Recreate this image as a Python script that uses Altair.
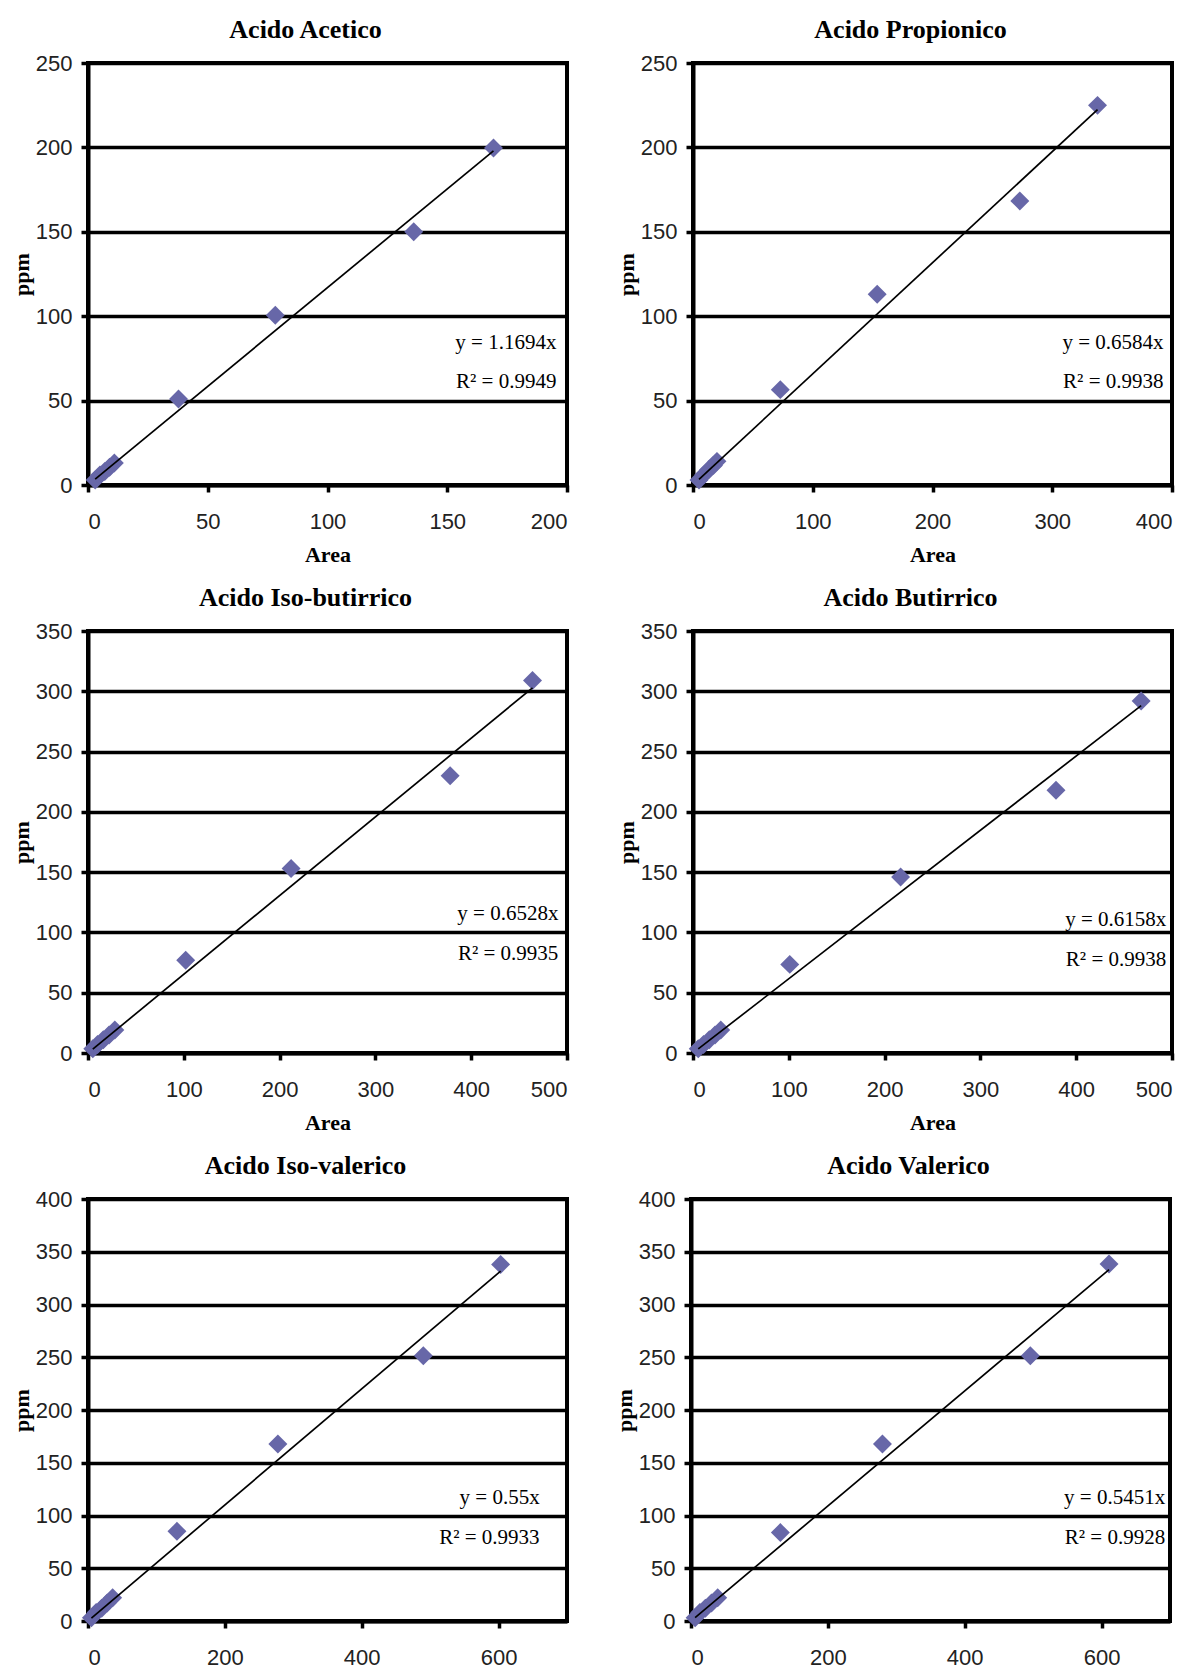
import altair as alt
import pandas as pd

titles = ["Acido Acetico", "Acido Propionico", "Acido Iso-butirrico",
          "Acido Butirrico", "Acido Iso-valerico", "Acido Valerico"]

acetico_area = [3, 5, 7, 9, 11, 37.8, 78.2, 136, 169.3]
acetico_ppm = [3, 6, 8, 10.5, 13, 51, 100.5, 150, 199.7]
propionico_area = [5, 9, 13, 17, 20, 72.9, 153.8, 272.9, 337.8]
propionico_ppm = [3, 6, 9, 11.5, 14, 56.5, 113, 168.3, 224.9]
isobutirrico_area = [5, 10, 16, 22, 28, 102, 212, 378, 464]
isobutirrico_ppm = [3.5, 7, 11, 15, 19, 77, 153, 230, 309]
butirrico_area = [5.5, 11, 17, 23, 29, 101, 216.7, 378.9, 467.8]
butirrico_ppm = [3.5, 7, 11, 15, 19, 73.5, 146, 218, 292]
isovalerico_area = [5, 12, 20, 28, 36, 130, 277.5, 490, 603]
isovalerico_ppm = [3, 8, 12, 17, 22, 85, 167.7, 251.5, 338]
valerico_area = [6, 13, 21, 30, 39, 130.6, 279.8, 495.9, 610.9]
valerico_ppm = [3, 8, 12, 17, 22, 83.8, 167.7, 251.5, 338.4]

areas = [acetico_area, propionico_area, isobutirrico_area,
         butirrico_area, isovalerico_area, valerico_area]
ppms = [acetico_ppm, propionico_ppm, isobutirrico_ppm,
        butirrico_ppm, isovalerico_ppm, valerico_ppm]

slopes = [1.1694, 0.6584, 0.6528, 0.6158, 0.55, 0.5451]
eq_labels = ["y = 1.1694x", "y = 0.6584x", "y = 0.6528x",
             "y = 0.6158x", "y = 0.55x", "y = 0.5451x"]
r2_labels = ["R² = 0.9949", "R² = 0.9938", "R² = 0.9935",
             "R² = 0.9938", "R² = 0.9933", "R² = 0.9928"]

x_max = [200, 400, 500, 500, 700, 700]
y_max = [250, 250, 350, 350, 400, 400]
x_ticks = [[0, 50, 100, 150, 200], [0, 100, 200, 300, 400],
           [0, 100, 200, 300, 400, 500], [0, 100, 200, 300, 400, 500],
           [0, 200, 400, 600], [0, 200, 400, 600]]
y_ticks = [[0, 50, 100, 150, 200, 250], [0, 50, 100, 150, 200, 250],
           [0, 50, 100, 150, 200, 250, 300, 350], [0, 50, 100, 150, 200, 250, 300, 350],
           [0, 50, 100, 150, 200, 250, 300, 350, 400], [0, 50, 100, 150, 200, 250, 300, 350, 400]]

# annotation anchor positions (data units)
eq_x = [195.6, 392.9, 491, 494, 660, 693]
eq_y = [84, 84, 115, 110, 117, 117]
r2_y = [61, 61, 82, 77, 79, 79]

POINT_COLOR = "#6767a8"
SERIF = "Liberation Serif, Times New Roman, serif"
SANS = "Liberation Sans, Arial, sans-serif"


def panel(i, show_x_title=True):
    pts = pd.DataFrame({"Area": areas[i], "ppm": ppms[i]})
    lx = [min(areas[i]), max(areas[i])]
    line_df = pd.DataFrame({"Area": lx, "ppm": [slopes[i] * v for v in lx]})
    txt_df = pd.DataFrame({"Area": [eq_x[i], eq_x[i]],
                           "ppm": [eq_y[i], r2_y[i]],
                           "label": [eq_labels[i], r2_labels[i]]})

    xs = alt.Scale(domain=[0, x_max[i]], nice=False)
    ys = alt.Scale(domain=[0, y_max[i]], nice=False)
    xax = alt.Axis(values=x_ticks[i], grid=False, title="Area" if show_x_title else "")
    yax = alt.Axis(values=y_ticks[i], grid=True, title="ppm")

    line = alt.Chart(line_df).mark_line(color="black", strokeWidth=1.7).encode(
        x=alt.X("Area:Q", scale=xs, axis=xax),
        y=alt.Y("ppm:Q", scale=ys, axis=yax),
    )
    points = alt.Chart(pts).mark_point(shape="diamond", filled=True, size=360,
                                       color=POINT_COLOR, opacity=1).encode(
        x=alt.X("Area:Q", scale=xs, axis=xax),
        y=alt.Y("ppm:Q", scale=ys, axis=yax),
    )
    text = alt.Chart(txt_df).mark_text(align="right", baseline="middle", font=SERIF,
                                       fontSize=21, color="black").encode(
        x=alt.X("Area:Q", scale=xs, axis=xax),
        y=alt.Y("ppm:Q", scale=ys, axis=yax),
        text="label:N",
    )
    return alt.layer(points, line, text).properties(
        width=479, height=422,
        title=alt.TitleParams(titles[i], frame="group", dx=-22),
    )


row1 = alt.hconcat(panel(0), panel(1), spacing=42)
row2 = alt.hconcat(panel(2), panel(3), spacing=42)
row3 = alt.hconcat(panel(4, False), panel(5, False), spacing=42)

chart = alt.vconcat(row1, row2, row3, spacing=16).properties(
    padding={"left": 0, "top": 7, "right": 0, "bottom": 0}
).configure_view(
    stroke="black", strokeWidth=4
).configure_axis(
    labelFont=SANS, labelFontSize=22, labelColor="#222222",
    domainColor="black", domainWidth=4,
    tickColor="black", tickWidth=3.5, tickSize=7,
    gridColor="black", gridWidth=3.5, gridOpacity=1,
    titleFont=SERIF, titleFontWeight="bold", titleFontSize=22, titleColor="black",
).configure_axisY(
    titlePadding=1.5, labelPadding=9,
).configure_axisX(
    titlePadding=12, labelPadding=19,
).configure_title(
    font=SERIF, fontSize=26, fontWeight="bold", color="black", offset=9
)

chart.save("out.html", embed_options={"renderer": "svg", "actions": False})
